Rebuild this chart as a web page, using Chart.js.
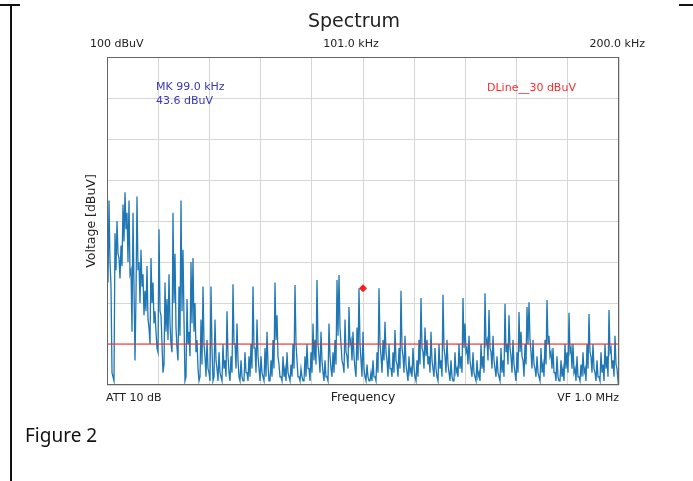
<!DOCTYPE html>
<html>
<head>
<meta charset="utf-8">
<script src="https://cdn.jsdelivr.net/npm/chart.js@4/dist/chart.umd.min.js"></script>
<style>
  html, body { margin: 0; padding: 0; background: #fff; }
  #wrap { position: relative; width: 693px; height: 481px; overflow: hidden; }
  #spectrum-chart { position: absolute; left: 0; top: 0; }
  .frame { position: absolute; background: #111; }
  #caption { position: absolute; left: 25px; top: 422px; font: 19px "Noto Sans", "DejaVu Sans", sans-serif; color: #111; }
</style>
</head>
<body>
<div id="wrap">
  <canvas id="spectrum-chart" width="693" height="481"></canvas>
  <div class="frame" style="left:10px; top:4px; width:2px; height:477px;"></div>
  <div class="frame" style="left:0; top:4px; width:20px; height:2px;"></div>
  <div class="frame" style="left:679px; top:4px; width:14px; height:2px;"></div>
  <div id="caption">Figure 2</div>
</div>
<script>
// Sweep: 2 kHz .. 200 kHz, 257 bins
const freqStart = 2;
const freqStop = 200;

// Level at the start of each bin (dBuV)
const levels = [
  62, 65, 44, 22, 57, 60, 51, 54, 64, 67,
  62, 65, 48, 62, 26, 66, 50, 53, 47, 43,
  49, 34, 51, 45, 38, 29, 58, 37, 23, 45,
  41, 47, 30, 62, 52, 29, 44, 65, 53, 21,
  41, 33, 50, 51, 40, 31, 21, 36, 44, 27,
  31, 23, 44, 21, 36, 24, 28, 22, 30, 26,
  38, 23, 27, 44.6, 30, 35, 22, 26, 21, 28,
  23, 27, 30, 44, 29, 36, 24, 27, 22, 29,
  33, 21, 26, 31, 45, 37, 25, 22, 27, 24,
  28, 22, 25, 30, 44.4, 26, 22, 24, 21, 27,
  30, 24, 28, 35, 31, 45.6, 27, 33, 23, 26,
  22, 35, 24, 28, 31, 45.6, 46.8, 30, 25, 36,
  27, 39, 31, 33, 24, 34, 43.6, 26, 33, 22,
  25, 21, 23, 26, 22, 28, 43.6, 27, 31, 35.4,
  26, 30, 24, 28, 33.4, 25, 29, 43, 27, 32,
  23, 27, 24, 29, 22, 26, 31, 41.2, 28, 34,
  31, 27, 33, 24, 29, 22, 30, 26, 42, 27,
  31, 23, 26, 21, 28, 24, 30, 27, 41.2, 35,
  29, 32, 24, 28, 22, 26, 23, 30, 27, 42.4,
  31, 38.3, 28, 32, 24, 27, 22, 29, 26, 39.8,
  30, 37, 27, 31, 23, 28, 37.8, 33, 26, 30,
  39, 40.2, 28, 31, 24, 27, 22, 29, 25, 31,
  40.7, 32, 28, 29, 23, 27, 21, 26, 24, 30,
  28, 37.6, 29, 30, 24, 27, 22, 25, 28, 24,
  30, 37.3, 27, 30, 23, 26, 22, 28, 25, 30,
  27, 38.3, 29, 26, 32, 24, 23
];

// Level at the middle of each bin (dBuV), the low side of the trace
const levelsMid = [
  45, 50, 23, 21, 48, 52, 46, 49, 55, 58,
  50, 47, 33, 44, 42, 48, 40, 44, 37, 38,
  36, 30, 40, 35, 33, 28, 38, 30, 25, 33,
  31, 35, 28, 40, 34, 26, 32, 38, 36, 22,
  30, 27, 35, 33, 28, 24, 22, 25, 30, 22,
  24, 21, 29, 22, 26, 21, 23, 21, 24, 22,
  27, 21, 23, 30, 24, 26, 21, 22, 21, 23,
  21, 22, 24, 29, 23, 27, 21, 23, 21, 22,
  25, 21, 22, 24, 31, 27, 22, 21, 22, 21,
  23, 21, 22, 24, 30, 22, 21, 22, 21, 22,
  24, 21, 23, 26, 25, 30, 23, 26, 21, 22,
  21, 27, 22, 23, 25, 32, 34, 26, 23, 28,
  24, 30, 26, 27, 22, 26, 30, 22, 24, 21,
  22, 21, 21, 22, 21, 23, 30, 23, 26, 28,
  22, 24, 22, 23, 26, 22, 24, 29, 23, 25,
  21, 23, 22, 24, 21, 22, 25, 29, 24, 27,
  25, 23, 26, 22, 24, 21, 24, 22, 29, 23,
  25, 21, 22, 21, 23, 22, 24, 23, 29, 28,
  25, 26, 22, 23, 21, 22, 21, 24, 23, 30,
  26, 29, 24, 26, 22, 23, 21, 23, 22, 28,
  25, 29, 23, 25, 21, 23, 28, 27, 22, 25,
  30, 31, 24, 25, 22, 23, 21, 23, 22, 25,
  30, 27, 24, 23, 21, 22, 21, 22, 21, 24,
  23, 28, 24, 23, 21, 22, 21, 22, 23, 21,
  24, 28, 23, 24, 21, 22, 21, 23, 21, 24,
  22, 28, 24, 22, 25, 21, 21
];

// Grid divisions
const xGridLines = [2, 21.8, 41.6, 61.4, 81.2, 101, 120.8, 140.6, 160.4, 180.2, 200];
const yMin = 20;
const yMax = 100;

// Display line and marker
const dLineLevel = 30;
const markerFreq = 101;
const markerLevel = 43.6;

const binWidth = (freqStop - freqStart) / (levels.length - 1);
const tracePoints = [];
levels.forEach((v, i) => {
  const f = freqStart + i * binWidth;
  tracePoints.push({ x: f, y: v });
  if (i < levels.length - 1) tracePoints.push({ x: f + binWidth / 2, y: levelsMid[i] });
});

// Text around the plot
const overlayText = {
  id: 'overlayText',
  afterDraw(chart) {
    const ctx = chart.ctx;
    const a = chart.chartArea;
    ctx.save();

    // plot frame
    ctx.strokeStyle = '#666';
    ctx.lineWidth = 1;
    ctx.strokeRect(a.left + 0.5, a.top + 0.5, a.right - a.left - 1, a.bottom - a.top - 1);

    ctx.textBaseline = 'middle';
    ctx.fillStyle = '#222';
    ctx.font = '19px "DejaVu Sans"';
    ctx.textAlign = 'center';
    ctx.fillText('Spectrum', 354, 22);

    ctx.font = '11px "DejaVu Sans"';
    ctx.textAlign = 'left';
    ctx.fillText('100 dBuV', 90, 44);
    ctx.textAlign = 'center';
    ctx.fillText('101.0 kHz', 351, 44);
    ctx.textAlign = 'right';
    ctx.fillText('200.0 kHz', 645, 44);

    ctx.textAlign = 'left';
    ctx.fillText('ATT 10 dB', a.left - 1, a.bottom + 13);
    ctx.textAlign = 'right';
    ctx.fillText('VF 1.0 MHz', a.right, a.bottom + 13);
    ctx.font = '12.5px "DejaVu Sans"';
    ctx.textAlign = 'center';
    ctx.fillText('Frequency', (a.left + a.right) / 2, a.bottom + 13);

    ctx.save();
    ctx.translate(92, (a.top + a.bottom) / 2);
    ctx.rotate(-Math.PI / 2);
    ctx.fillText('Voltage [dBuV]', 0, 0);
    ctx.restore();

    ctx.font = '11px "DejaVu Sans"';
    ctx.textAlign = 'left';
    ctx.fillStyle = '#3838b8';
    ctx.fillText('MK 99.0 kHz', a.left + 49, a.top + 30);
    ctx.fillText('43.6 dBuV', a.left + 49, a.top + 44);
    ctx.fillStyle = '#ff2a2a';
    ctx.fillText('DLine__30 dBuV', a.left + 380, a.top + 31);

    ctx.restore();
  }
};

const spectrumChart = new Chart(document.getElementById('spectrum-chart'), {
  type: 'line',
  data: {
    datasets: [
      {
        label: 'Marker',
        data: [{ x: markerFreq, y: markerLevel }],
        showLine: false,
        pointStyle: 'rectRot',
        pointRadius: 3.5,
        pointBackgroundColor: '#ff1a1a',
        pointBorderColor: '#ff1a1a',
        order: 0
      },
      {
        label: 'DLine',
        data: [{ x: freqStart, y: dLineLevel }, { x: freqStop, y: dLineLevel }],
        borderColor: '#ff2020',
        borderWidth: 1.2,
        pointRadius: 0,
        order: 1
      },
      {
        label: 'Spectrum',
        data: tracePoints,
        borderColor: '#1f77b4',
        borderWidth: 1.3,
        pointRadius: 0,
        tension: 0,
        order: 2
      }
    ]
  },
  options: {
    responsive: false,
    animation: false,
    events: [],
    layout: { padding: { left: 107, top: 57, right: 74, bottom: 96 } },
    plugins: {
      legend: { display: false },
      tooltip: { enabled: false }
    },
    scales: {
      x: {
        type: 'linear',
        min: freqStart,
        max: freqStop,
        afterBuildTicks: axis => { axis.ticks = xGridLines.map(v => ({ value: v })); },
        ticks: { display: false },
        grid: { color: '#d6d6d6', lineWidth: 1, drawTicks: false },
        border: { display: false }
      },
      y: {
        min: yMin,
        max: yMax,
        ticks: { display: false, stepSize: 10 },
        grid: { color: '#d6d6d6', lineWidth: 1, drawTicks: false },
        border: { display: false }
      }
    }
  },
  plugins: [overlayText]
});
</script>
</body>
</html>
